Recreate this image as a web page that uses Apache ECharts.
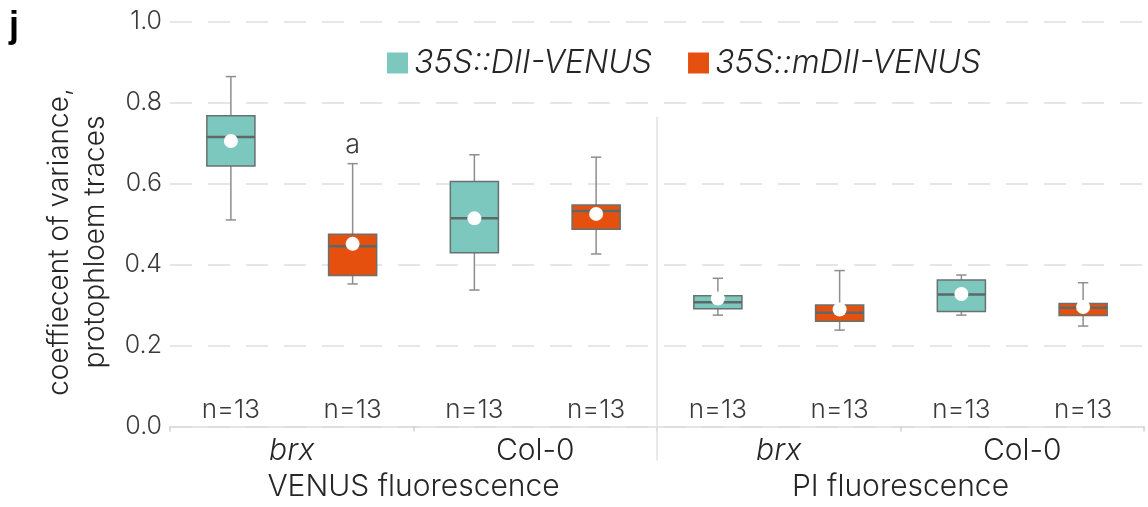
<!DOCTYPE html>
<html><head><meta charset="utf-8">
<script src="https://cdn.jsdelivr.net/npm/echarts@6/dist/echarts.min.js"></script>
<style>html,body{margin:0;padding:0;background:#fff}#c{width:1148px;height:507px}</style>
</head><body><div id="c"></div>
<script>
// ---- data ----
const boxKeys = ['VENUS-brx-DII','VENUS-brx-mDII','VENUS-Col0-DII','VENUS-Col0-mDII','PI-brx-DII','PI-brx-mDII','PI-Col0-DII','PI-Col0-mDII'];
const genotypeLabels = ['brx|0','Col-0|1','brx|2','Col-0|3'];
const facetLabels = ['VENUS fluorescence','PI fluorescence'];
const seriesNames = ['35S::DII-VENUS','35S::mDII-VENUS'];
const boxSeries = [0,1,0,1,0,1,0,1];
const whiskerLow  = [0.510,0.352,0.337,0.426,0.275,0.238,0.275,0.248];
const q1          = [0.643,0.373,0.429,0.487,0.291,0.260,0.284,0.274];
const median      = [0.715,0.445,0.514,0.532,0.307,0.281,0.326,0.293];
const q3          = [0.767,0.475,0.605,0.547,0.323,0.300,0.362,0.304];
const whiskerHigh = [0.864,0.649,0.671,0.665,0.366,0.385,0.374,0.355];
const means       = [0.705,0.451,0.514,0.525,0.316,0.289,0.327,0.295];
const nLabels = ['n=13','n=13','n=13','n=13','n=13','n=13','n=13','n=13'];
const annotations = ['','a','','','','','',''];
const yMin = 0, yMax = 1, yInterval = 0.2;
const dividerAfter = 3;
const dividerTop = 0.765;

// ---- style ----
const colors = ['#7cc8be', '#e5500f'];
const FONT = 'Inter, "Open Sans", "Liberation Sans", sans-serif';
const TXT = '#262626';
const W = 300;

function renderBox(params, api) {
  const i = api.value(0);
  const band = api.size([1, 0])[0];
  const bw = band * 0.395, cw = band * 0.085;
  const pLo = api.coord([i, api.value(1)]);
  const pQ1 = api.coord([i, api.value(2)]);
  const pMed = api.coord([i, api.value(3)]);
  const pQ3 = api.coord([i, api.value(4)]);
  const pHi = api.coord([i, api.value(5)]);
  const pMean = api.coord([i, api.value(6)]);
  const base = api.coord([i, 0]);
  const x = pLo[0];
  const fill = colors[boxSeries[i]];
  const wStyle = { stroke: '#8e8e8e', lineWidth: 1.5 };
  const children = [
    { type: 'line', shape: { x1: x, y1: pLo[1], x2: x, y2: pHi[1] }, style: wStyle },
    { type: 'line', shape: { x1: x - cw / 2, y1: pLo[1], x2: x + cw / 2, y2: pLo[1] }, style: wStyle },
    { type: 'line', shape: { x1: x - cw / 2, y1: pHi[1], x2: x + cw / 2, y2: pHi[1] }, style: wStyle },
    { type: 'rect', shape: { x: x - bw / 2, y: pQ3[1], width: bw, height: pQ1[1] - pQ3[1] }, style: { fill: fill, stroke: '#68716f', lineWidth: 1.5 } },
    { type: 'line', shape: { x1: x - bw / 2, y1: pMed[1], x2: x + bw / 2, y2: pMed[1] }, style: { stroke: '#5e6866', lineWidth: 2.5 } },
    { type: 'circle', shape: { cx: x, cy: pMean[1], r: 7 }, style: { fill: '#ffffff' } },
    { type: 'text', x: x, y: base[1] - 16, style: { text: nLabels[i], align: 'center', verticalAlign: 'middle', fontSize: 26, fontFamily: FONT, fontWeight: W, fill: '#3a3a3a' } }
  ];
  if (annotations[i]) {
    children.push({ type: 'text', x: x, y: pHi[1] - 19, style: { text: annotations[i], align: 'center', verticalAlign: 'middle', fontSize: 27, fontFamily: FONT, fontWeight: W, fill: '#3a3a3a' } });
  }
  return { type: 'group', children: children };
}

function renderDivider(params, api) {
  const i = api.value(0);
  const a = api.coord([i, 0]);
  const b = api.coord([i + 1, 0]);
  const top = api.coord([i, api.value(1)]);
  const x = (a[0] + b[0]) / 2;
  return { type: 'line', shape: { x1: x, y1: top[1], x2: x, y2: a[1] + 34 }, style: { stroke: '#e2e2e2', lineWidth: 1.5 } };
}

const boxSeriesList = seriesNames.map((name, k) => {
  const data = [];
  boxKeys.forEach((key, i) => {
    if (boxSeries[i] === k) data.push([i, whiskerLow[i], q1[i], median[i], q3[i], whiskerHigh[i], means[i]]);
  });
  return {
    name: name, type: 'custom', xAxisIndex: 0, yAxisIndex: 0,
    itemStyle: { color: colors[k] },
    encode: { x: 0, y: [1, 2, 3, 4, 5, 6] },
    renderItem: renderBox, data: data, z: 5, silent: true
  };
});

const chart = echarts.init(document.getElementById('c'), null, { renderer: 'canvas' });
chart.setOption({
  animation: false,
  backgroundColor: '#ffffff',
  textStyle: { fontFamily: FONT },
  grid: { left: 170, right: 4, top: 21.5, bottom: 80.5, containLabel: false },
  legend: {
    data: seriesNames, left: 382, top: 42, icon: 'rect', itemWidth: 21, itemHeight: 21, itemGap: 36,
    textStyle: { fontSize: 32, fontStyle: 'italic', fontWeight: W, color: TXT, fontFamily: FONT, padding: [0, 0, 0, 1] },
    selectedMode: false
  },
  xAxis: [
    {
      type: 'category', data: boxKeys, position: 'bottom', boundaryGap: true,
      axisLine: { show: true, lineStyle: { color: '#dcdcdc', width: 1.5 } },
      axisTick: { show: false }, axisLabel: { show: false }, splitLine: { show: false }
    },
    {
      type: 'category', data: genotypeLabels, position: 'bottom', boundaryGap: true, gridIndex: 0,
      axisLine: { show: false },
      axisTick: { show: true, length: 5, lineStyle: { color: '#d0d0d0', width: 1.5 } },
      axisLabel: {
        margin: 9, fontSize: 30, color: TXT, fontFamily: FONT, fontWeight: W,
        formatter: v => { const s = v.split('|')[0]; return s === 'brx' ? '{i|' + s + '}' : '{n|' + s + '}'; },
        rich: {
          i: { fontSize: 30, fontStyle: 'italic', color: TXT, fontFamily: FONT, fontWeight: W },
          n: { fontSize: 30, color: TXT, fontFamily: FONT, fontWeight: W }
        }
      },
      splitLine: { show: false }
    },
    {
      type: 'category', data: facetLabels, position: 'bottom', offset: 37, boundaryGap: true, gridIndex: 0,
      axisLine: { show: false }, axisTick: { show: false },
      axisLabel: { margin: 8, fontSize: 30, color: TXT, fontFamily: FONT, fontWeight: W },
      splitLine: { show: false }
    }
  ],
  yAxis: {
    type: 'value', min: yMin, max: yMax, interval: yInterval,
    axisLine: { show: false }, axisTick: { show: false },
    axisLabel: { formatter: v => v.toFixed(1), fontSize: 25, color: '#3a3a3a', margin: 8, fontFamily: FONT, fontWeight: W },
    splitLine: { lineStyle: { color: '#dedede', type: [22, 16], width: 1.5 } },
    name: 'coeffiecent of variance,\nprotophloem traces', nameLocation: 'middle', nameRotate: 90, nameGap: 47,
    nameTextStyle: { fontSize: 28, lineHeight: 36, color: TXT, fontFamily: FONT, fontWeight: W, padding: [0, 36, 0, 0] }
  },
  series: boxSeriesList.concat([{
    name: 'divider', type: 'custom', xAxisIndex: 0, yAxisIndex: 0, silent: true, z: 1,
    encode: { x: 0, y: 1 }, renderItem: renderDivider, data: [[dividerAfter, dividerTop]]
  }])
});
</script>
<div style="position:absolute;left:9px;top:4px;font:bold 36px 'Liberation Sans',sans-serif;color:#000">j</div>
</body></html>
